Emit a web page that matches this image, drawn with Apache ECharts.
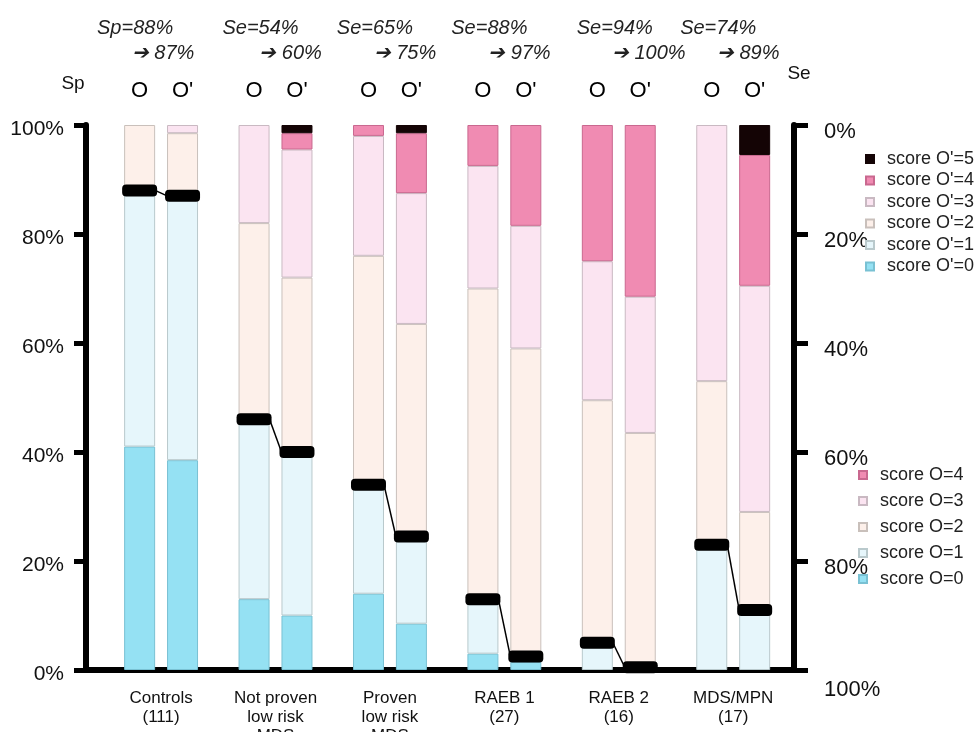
<!DOCTYPE html>
<html>
<head>
<meta charset="utf-8">
<script src="https://cdn.jsdelivr.net/npm/echarts@6/dist/echarts.min.js"></script>
<style>
  html, body { margin: 0; padding: 0; background: #fff; }
  #chart { width: 980px; height: 732px; }
</style>
</head>
<body>
<div id="chart"></div>
<script>
// groups along the x axis
const groups = ['Controls\n(111)', 'Not proven\nlow risk\nMDS', 'Proven\nlow risk\nMDS', 'RAEB 1\n(27)', 'RAEB 2\n(16)', 'MDS/MPN\n(17)'];
const beforeText = ['Sp=88%', 'Se=54%', 'Se=65%', 'Se=88%', 'Se=94%', 'Se=74%'];
const afterText = ['87%', '60%', '75%', '97%', '100%', '89%'];

// % of patients per score, original score O
const scoreO0 = [41, 13, 14, 3, 0, 0];
const scoreO1 = [47, 33, 20, 10, 5, 23];
const scoreO2 = [12, 36, 42, 57, 44.5, 30];
const scoreO3 = [0, 18, 22, 22.5, 25.5, 47];
const scoreO4 = [0, 0, 2, 7.5, 25, 0];

// % of patients per score, modified score O'
const scoreP0 = [38.5, 10, 8.5, 1.5, 0, 0];
const scoreP1 = [48.5, 30, 16, 1, 0.5, 11];
const scoreP2 = [11.5, 32, 39, 56.5, 43, 18];
const scoreP3 = [1.5, 23.5, 24, 22.5, 25, 41.5];
const scoreP4 = [0, 3, 11, 18.5, 31.5, 24];
const scoreP5 = [0, 1.5, 1.5, 0, 0, 5.5];

// cut-off (black marker) heights
const markerO = [88, 46, 34, 13, 5, 23];
const markerP = [87, 40, 24.5, 2.5, 0.5, 11];

const yTicks = [0, 20, 40, 60, 80, 100];

// layout of the category slots
const PAD = 2, GROUP_SLOTS = 16, O_SLOT = 5, P_SLOT = 11, LABEL_SLOT = 8;
const TOTAL = PAD + GROUP_SLOTS * groups.length + 1;
const slotO = i => PAD + GROUP_SLOTS * i + O_SLOT;
const slotP = i => PAD + GROUP_SLOTS * i + P_SLOT;
const slotL = i => PAD + GROUP_SLOTS * i + LABEL_SLOT;

// horizontal nudges (px) of the two annotation lines above each group
const shiftOne = [-26, -15, -15, -15, -4, -15];
const shiftTwo = [2, 15, 15, 15, 30, 15];

const cats = Array.from({ length: TOTAL }, (_, i) => 's' + i);
const groupLabels = new Array(TOTAL).fill('');
const lineOne = new Array(TOTAL).fill('');
const lineTwo = new Array(TOTAL).fill('');
const topLabels = new Array(TOTAL).fill('');
const richOne = {}, richTwo = {};
const pad = s => [0, s < 0 ? -2 * s : 0, 0, s > 0 ? 2 * s : 0];
groups.forEach((g, i) => {
  groupLabels[slotL(i)] = g;
  lineOne[slotL(i)] = '{g' + i + '|' + beforeText[i] + '}';
  lineTwo[slotL(i)] = '{g' + i + '|\u2794 ' + afterText[i] + '}';
  richOne['g' + i] = { padding: pad(shiftOne[i]) };
  richTwo['g' + i] = { padding: pad(shiftTwo[i]) };
  topLabels[slotO(i)] = 'O';
  topLabels[slotP(i)] = "O'";
});

const colors = ['#95e1f3', '#e6f6fb', '#fdf0ea', '#fbe4f1', '#f08bb2', '#140405'];
const borders = ['#79c1d3', '#b9c9cc', '#c9c0bb', '#c9b9c2', '#c9688f', '#140405'];

const font = "'Liberation Sans', Arial, Helvetica, sans-serif";

function spread(values, slotFn) {
  const arr = new Array(TOTAL).fill('-');
  values.forEach((v, i) => { if (v > 0) arr[slotFn(i)] = v; });
  return arr;
}

const series = [];
[scoreO0, scoreO1, scoreO2, scoreO3, scoreO4].forEach((vals, k) => {
  series.push({
    name: 'score O=' + k,
    type: 'bar',
    stack: 'O',
    barWidth: 31,
    barGap: '-100%',
    itemStyle: { color: colors[k], borderColor: borders[k], borderWidth: 1 },
    data: spread(vals, slotO)
  });
});
[scoreP0, scoreP1, scoreP2, scoreP3, scoreP4, scoreP5].forEach((vals, k) => {
  series.push({
    name: "score O'=" + k,
    type: 'bar',
    stack: 'P',
    barWidth: 31,
    barGap: '-100%',
    itemStyle: { color: colors[k], borderColor: borders[k], borderWidth: 1 },
    data: spread(vals, slotP)
  });
});

series.push({
  type: 'custom',
  z: 10,
  silent: true,
  encode: { x: [0, 2], y: [1, 3] },
  data: markerO.map((v, i) => [slotO(i), v, slotP(i), markerP[i]]),
  renderItem: (params, api) => {
    const a = api.coord([api.value(0), api.value(1)]);
    const b = api.coord([api.value(2), api.value(3)]);
    const w = 35, h = 12;
    return {
      type: 'group',
      children: [
        { type: 'line', shape: { x1: a[0] + w / 2 - 2, y1: a[1], x2: b[0] - w / 2 + 2, y2: b[1] },
          style: { stroke: '#000', lineWidth: 1.5 } },
        { type: 'rect', shape: { x: a[0] - w / 2, y: a[1] - h / 2, width: w, height: h, r: 4 },
          style: { fill: '#000' } },
        { type: 'rect', shape: { x: b[0] - w / 2, y: b[1] - h / 2, width: w, height: h, r: 4 },
          style: { fill: '#000' } }
      ]
    };
  }
});

const legendText = { fontFamily: font, fontSize: 18, color: '#222', lineHeight: 20, padding: [0, 0, 0, 8] };

const option = {
  animation: false,
  backgroundColor: '#fff',
  grid: { left: 86, right: 186, top: 125, bottom: 62, outerBoundsMode: 'none', containLabel: false },
  legend: [
    {
      orient: 'vertical', left: 860, top: 144, itemWidth: 8, itemHeight: 8, itemGap: 1.5,
      selectedMode: false, icon: 'rect',
      data: ["score O'=5", "score O'=4", "score O'=3", "score O'=2", "score O'=1", "score O'=0"],
      textStyle: legendText
    },
    {
      orient: 'vertical', left: 853, top: 460, itemWidth: 8, itemHeight: 8, itemGap: 6,
      selectedMode: false, icon: 'rect',
      data: ['score O=4', 'score O=3', 'score O=2', 'score O=1', 'score O=0'],
      textStyle: legendText
    }
  ],
  xAxis: [
    {
      type: 'category', data: cats, position: 'bottom',
      axisLine: { lineStyle: { color: '#000', width: 6 } },
      axisTick: { show: false },
      axisLabel: {
        interval: 0, margin: 19, formatter: (v, i) => groupLabels[i],
        fontFamily: font, fontSize: 17, lineHeight: 19, color: '#111'
      }
    },
    {
      type: 'category', data: cats, position: 'top',
      axisLine: { show: false }, axisTick: { show: false },
      axisLabel: { interval: 0, margin: 23, formatter: (v, i) => topLabels[i], fontFamily: font, fontSize: 22, color: '#000' }
    },
    {
      type: 'category', data: cats, position: 'top', offset: 62,
      axisLine: { show: false }, axisTick: { show: false },
      axisLabel: {
        interval: 0, margin: 0, formatter: (v, i) => lineTwo[i], rich: richTwo,
        fontFamily: font, fontStyle: 'italic', fontSize: 20, color: '#222'
      }
    },
    {
      type: 'category', data: cats, position: 'top', offset: 87,
      axisLine: { show: false }, axisTick: { show: false },
      axisLabel: {
        interval: 0, margin: 0, formatter: (v, i) => lineOne[i], rich: richOne,
        fontFamily: font, fontStyle: 'italic', fontSize: 20, color: '#222'
      }
    }
  ],
  yAxis: [
    {
      type: 'value', min: yTicks[0], max: yTicks[yTicks.length - 1], interval: 20, position: 'left',
      name: 'Sp', nameLocation: 'end', nameGap: 32,
      nameTextStyle: { fontFamily: font, fontSize: 19, color: '#111', padding: [0, 26, 0, 0] },
      axisLine: { show: true, lineStyle: { color: '#000', width: 6 } },
      axisTick: { show: true, length: 12, lineStyle: { color: '#000', width: 5 } },
      splitLine: { show: false },
      axisLabel: {
        margin: 22, color: '#111',
        formatter: v => '{a|' + v + '%}',
        rich: { a: { fontFamily: font, fontSize: 21, padding: [8, 0, 0, 0] } }
      }
    },
    {
      type: 'value', min: yTicks[0], max: yTicks[yTicks.length - 1], interval: 20, position: 'right', inverse: true,
      name: 'Se', nameLocation: 'start', nameGap: 42,
      nameTextStyle: { fontFamily: font, fontSize: 19, color: '#111', padding: [0, 0, 0, 10] },
      axisLine: { show: true, lineStyle: { color: '#000', width: 6 } },
      axisTick: { show: true, length: 14, lineStyle: { color: '#000', width: 5 } },
      splitLine: { show: false },
      axisLabel: {
        margin: 30, color: '#111',
        formatter: v => (v === 100 ? '{b|' : '{a|') + v + '%}',
        rich: {
          a: { fontFamily: font, fontSize: 22, padding: [14, 0, 0, 0] },
          b: { fontFamily: font, fontSize: 22, padding: [40, 0, 0, 0] }
        }
      }
    }
  ],
  series
};

const chart = echarts.init(document.getElementById('chart'));
chart.setOption(option);
window.addEventListener('resize', () => chart.resize());
</script>
</body>
</html>
